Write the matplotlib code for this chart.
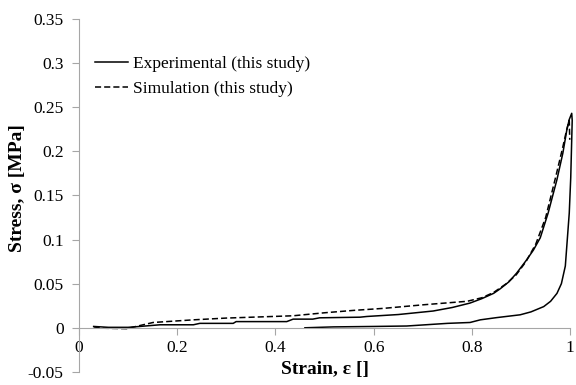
import matplotlib
matplotlib.use("Agg")
import matplotlib.pyplot as plt

# Experimental loop (this study): loading branch then unloading branch
exp_strain = [0.03, 0.06, 0.10, 0.124, 0.165, 0.233, 0.246, 0.314, 0.32, 0.423, 0.436,
              0.476, 0.49, 0.572, 0.586, 0.65, 0.721, 0.76, 0.796, 0.82, 0.844, 0.857,
              0.875, 0.891, 0.91, 0.925, 0.939, 0.955, 0.973, 0.985, 0.993, 0.998,
              1.003, 1.004, 1.003, 1.001, 0.998, 0.99, 0.982, 0.973, 0.96, 0.946,
              0.92, 0.898, 0.85, 0.817, 0.796, 0.75, 0.667, 0.6, 0.518, 0.46]
exp_stress = [0.0015, 0.0005, 0.0005, 0.0015, 0.0034, 0.0034, 0.005, 0.005, 0.007, 0.007,
              0.0098, 0.0098, 0.0113, 0.012, 0.0128, 0.015, 0.019, 0.023, 0.028, 0.033,
              0.039, 0.044, 0.052, 0.062, 0.076, 0.088, 0.102, 0.13, 0.168, 0.198, 0.224,
              0.236, 0.243, 0.235, 0.213, 0.17, 0.13, 0.07, 0.05, 0.039, 0.03, 0.024,
              0.018, 0.0147, 0.0115, 0.009, 0.006, 0.005, 0.002, 0.0015, 0.001, 0.0]

# Simulation (this study)
sim_strain = [0.03, 0.05, 0.097, 0.12, 0.151, 0.233, 0.3, 0.436, 0.5, 0.559, 0.62,
              0.7, 0.79, 0.82, 0.844, 0.87, 0.89, 0.91, 0.93, 0.95, 0.97, 0.985,
              0.993, 0.998, 0.999]
sim_stress = [0.001, -0.0005, -0.001, 0.002, 0.006, 0.009, 0.011, 0.0136, 0.017, 0.0197,
              0.022, 0.026, 0.030, 0.034, 0.040, 0.050, 0.060, 0.075, 0.095, 0.125,
              0.17, 0.205, 0.225, 0.235, 0.213]

y_ticks = [-0.05, 0, 0.05, 0.1, 0.15, 0.2, 0.25, 0.3, 0.35]
y_labels = ["-0.05", "0", "0.05", "0.1", "0.15", "0.2", "0.25", "0.3", "0.35"]
x_ticks = [0, 0.2, 0.4, 0.6, 0.8, 1]
x_labels = ["0", "0.2", "0.4", "0.6", "0.8", "1"]

plt.rcParams["font.family"] = ["Liberation Serif", "DejaVu Serif"]

fig = plt.figure(figsize=(5.76, 3.85), dpi=100)
ax = fig.add_axes([0.137, 0.034, 0.853, 0.917])

ax.plot(exp_strain, exp_stress, color="black", lw=1.1, clip_on=False,
        label="Experimental (this study)")
ax.plot(sim_strain, sim_stress, color="black", lw=1.1, ls=(0, (4, 2)), clip_on=False,
        label="Simulation (this study)")

ax.set_xlim(0, 1)
ax.set_ylim(-0.05, 0.35)
ax.set_xticks(x_ticks)
ax.set_xticklabels(x_labels)
ax.set_yticks(y_ticks)
ax.set_yticklabels(y_labels)

grey = "#a6a6a6"
for s in ["top", "right"]:
    ax.spines[s].set_visible(False)
ax.spines["bottom"].set_position(("data", 0))
ax.spines["bottom"].set_color(grey)
ax.spines["left"].set_color(grey)
ax.tick_params(axis="both", colors=grey, labelcolor="black", labelsize=12.5,
               direction="out", length=5, width=0.8)
ax.tick_params(axis="x", pad=4)
ax.tick_params(axis="y", pad=6)

ax.set_xlabel("Strain, ε []", fontsize=14, fontweight="bold")
ax.xaxis.set_label_coords(0.5, 0.006)
ax.xaxis.label.set_va("center")
ax.set_ylabel("Stress, σ [MPa]", fontsize=14, fontweight="bold")
ax.yaxis.set_label_coords(-0.108, 0.52)

ax.legend(loc="upper left", bbox_to_anchor=(0.0, 0.94), frameon=False, fontsize=12.5,
          handlelength=1.95, handletextpad=0.25, labelspacing=0.5)

fig.savefig("out.png", dpi=100)
